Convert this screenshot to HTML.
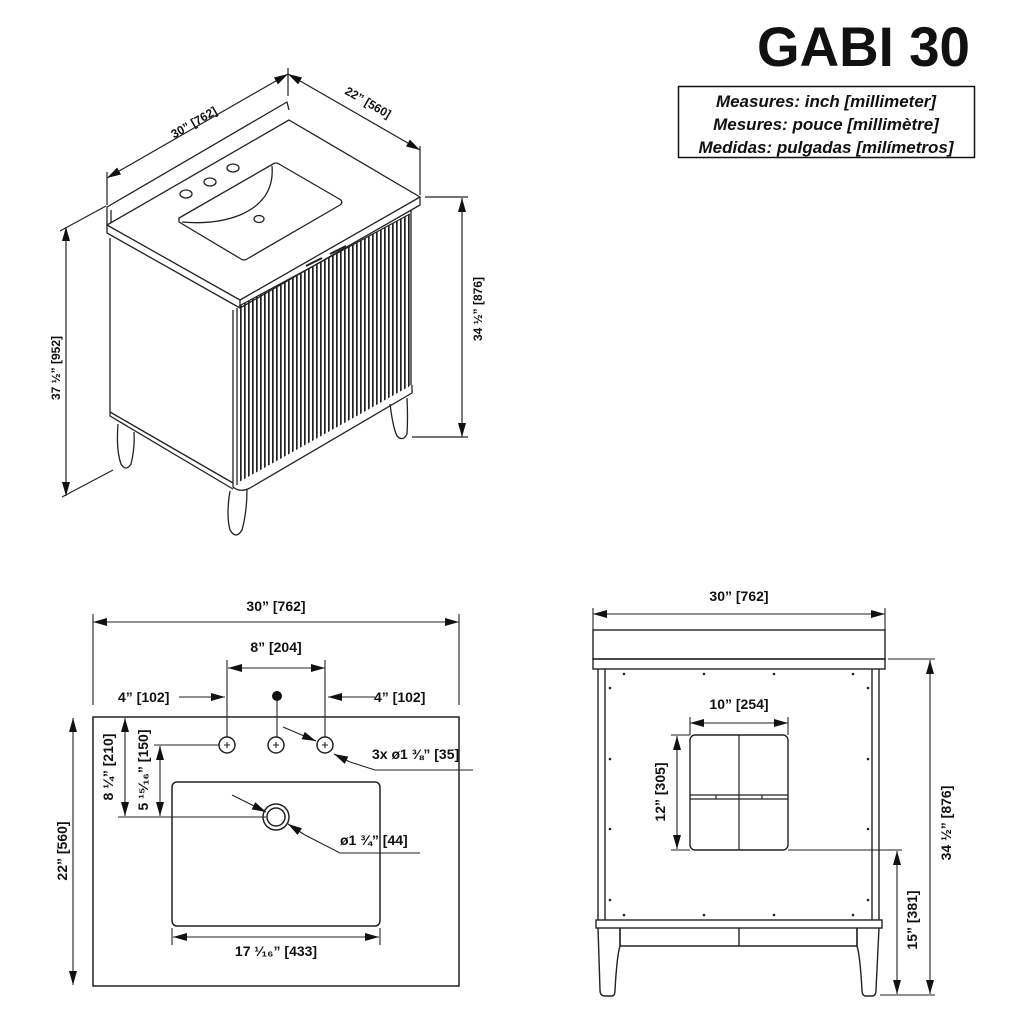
<!DOCTYPE html>
<html><head><meta charset="utf-8"><style>
html,body{margin:0;padding:0;background:#fff;}
svg{display:block;}
text{font-family:"Liberation Sans",Arial,sans-serif;font-weight:bold;fill:#111;}
</style></head><body>
<svg width="1024" height="1024" viewBox="0 0 1024 1024" xmlns="http://www.w3.org/2000/svg">
<defs>
<marker id="a" viewBox="0 0 14 8" markerWidth="14" markerHeight="8" refX="14" refY="4" orient="auto-start-reverse" markerUnits="userSpaceOnUse">
<path d="M0,0 L14,4 L0,8 z" fill="#111"/></marker>
<pattern id="fl" patternUnits="userSpaceOnUse" width="4" height="10"><rect x="0" y="0" width="1.7" height="10" fill="#222"/></pattern>
</defs>
<rect width="1024" height="1024" fill="#fff"/>

<!-- Title -->
<text x="757" y="66" font-size="56" textLength="213" lengthAdjust="spacingAndGlyphs">GABI 30</text>
<rect x="678.5" y="86.5" width="296" height="71" fill="none" stroke="#111" stroke-width="1.5"/>
<g font-style="italic" font-size="17" text-anchor="middle">
<text x="826" y="107">Measures: inch [millimeter]</text>
<text x="826" y="130">Mesures: pouce [millimètre]</text>
<text x="826" y="153">Medidas: pulgadas [milímetros]</text>
</g>

<!-- Isometric view -->
<g fill="none" stroke="#222" stroke-width="1.3" stroke-linejoin="round">
<!-- backsplash -->
<path d="M107,225 L107,207 L287,102 L289,110"/>
<path d="M111,225 L111,210"/>
<!-- counter top -->
<path d="M107,225 L289,120 L420,197 L240,300 Z" fill="#fff"/>
<path d="M107,225 L107,233 L240,308 L420,205 L420,197"/>
<path d="M240,300 L240,308"/>
<!-- sink -->
<path d="M179,218 L273,164 Q276,162 279,164 L341,200 Q343,203 340,205 L247,259 Q244,261 241,259 L179,222 Z"/>
<path d="M272,166 Q275,200 240,215 Q215,225 182,222"/>
<ellipse cx="186" cy="194" rx="6" ry="4"/>
<ellipse cx="210" cy="182" rx="6" ry="4"/>
<ellipse cx="233" cy="168" rx="6" ry="4"/>
<ellipse cx="259" cy="219" rx="5" ry="3.5"/>
<!-- body -->
<path d="M110,238 L110,412 L233,483"/>
<path d="M233,310 L233,487 Q240,493 250,488 L412,393 L412,385"/>
<path d="M110,412 L110,416 L233,489"/>
<path d="M237,308 L237,485"/>
<path d="M411,210 L411,385"/>
<!-- handles -->
<path d="M306,266 L322,258 M330,254 L346,246" stroke-width="2"/>
<!-- legs -->
<path d="M118,424 Q116,450 121,464 Q126,472 131,464 Q135,448 134,432"/>
<path d="M230,491 Q226,515 230,530 Q236,540 242,530 Q247,512 247,489"/>
<path d="M390,404 Q393,428 397,436 Q403,442 407,434 Q408,418 407,398"/>
</g>
<polygon points="239,306 410,214 410,386 239,482" fill="url(#fl)"/>
<path d="M239,306 L410,214" stroke="#222" stroke-width="1.2"/>

<!-- iso dims -->
<g stroke="#222" stroke-width="1.2" fill="none">
<line x1="107" y1="178" x2="288" y2="74" marker-start="url(#a)" marker-end="url(#a)"/>
<line x1="107" y1="172" x2="107" y2="205"/>
<line x1="288" y1="68" x2="288" y2="96"/>
<line x1="288" y1="74" x2="420" y2="150" marker-start="url(#a)" marker-end="url(#a)"/>
<line x1="420" y1="146" x2="420" y2="195"/>
<line x1="66" y1="227" x2="66" y2="496" marker-start="url(#a)" marker-end="url(#a)"/>
<line x1="60" y1="231" x2="106" y2="206"/>
<line x1="62" y1="497" x2="113" y2="470"/>
<line x1="462" y1="198" x2="462" y2="437" marker-start="url(#a)" marker-end="url(#a)"/>
<line x1="425" y1="197" x2="468" y2="197"/>
<line x1="412" y1="437" x2="468" y2="437"/>
</g>
<g font-size="12">
<text transform="translate(196,126) rotate(-30)" text-anchor="middle">30” [762]</text>
<text transform="translate(366,106) rotate(30)" text-anchor="middle">22” [560]</text>
<text transform="translate(60,368) rotate(-90)" text-anchor="middle">37 ½” [952]</text>
<text transform="translate(482,309) rotate(-90)" text-anchor="middle">34 ½” [876]</text>
</g>

<!-- Top view -->
<g stroke="#222" stroke-width="1.5" fill="none">
<rect x="93" y="717" width="366" height="269"/>
<rect x="172" y="782" width="208" height="144" rx="5"/>
<circle cx="276" cy="817" r="13"/><circle cx="276" cy="817" r="9"/>
<circle cx="227" cy="745" r="8"/><circle cx="276" cy="745" r="8"/><circle cx="325" cy="745" r="8"/>
</g>
<g stroke="#222" stroke-width="1.1" fill="none">
<path d="M224,745h6M227,742v6M273,745h6M276,742v6M322,745h6M325,742v6"/>
<line x1="93" y1="622" x2="459" y2="622" marker-start="url(#a)" marker-end="url(#a)"/>
<line x1="93" y1="614" x2="93" y2="705"/><line x1="459" y1="614" x2="459" y2="705"/>
<line x1="228" y1="668" x2="325" y2="668" marker-start="url(#a)" marker-end="url(#a)"/>
<line x1="227" y1="660" x2="227" y2="737"/><line x1="325" y1="660" x2="325" y2="737"/>
<line x1="179" y1="697" x2="225" y2="697" marker-end="url(#a)"/>
<line x1="375" y1="697" x2="328" y2="697" marker-end="url(#a)"/>
<line x1="277" y1="694" x2="277" y2="737"/>
<line x1="73" y1="718" x2="73" y2="985" marker-start="url(#a)" marker-end="url(#a)"/>
<line x1="125" y1="718" x2="125" y2="816" marker-start="url(#a)" marker-end="url(#a)"/>
<line x1="160" y1="746" x2="160" y2="816" marker-start="url(#a)" marker-end="url(#a)"/>
<line x1="154" y1="745" x2="219" y2="745"/>
<line x1="118" y1="817" x2="266" y2="817"/>
<line x1="283" y1="727" x2="316" y2="741" marker-end="url(#a)"/>
<line x1="350" y1="762" x2="334" y2="754" marker-end="url(#a)"/>
<path d="M350,762 L375,770 L473,770"/>
<line x1="232" y1="795" x2="266" y2="812" marker-end="url(#a)"/>
<line x1="305" y1="835" x2="288" y2="824" marker-end="url(#a)"/>
<path d="M305,835 L340,853 L420,853"/>
<line x1="173" y1="937" x2="379" y2="937" marker-start="url(#a)" marker-end="url(#a)"/>
<line x1="172" y1="928" x2="172" y2="945"/><line x1="380" y1="928" x2="380" y2="945"/>
</g>
<circle cx="277" cy="696" r="5" fill="#111"/>
<g font-size="14">
<text x="276" y="611" text-anchor="middle">30” [762]</text>
<text x="276" y="652" text-anchor="middle">8” [204]</text>
<text x="118" y="702">4” [102]</text>
<text x="374" y="702">4” [102]</text>
<text x="372" y="759">3x ø1 ⅜” [35]</text>
<text x="340" y="845">ø1 ¾” [44]</text>
<text x="276" y="956" text-anchor="middle">17 ¹⁄₁₆” [433]</text>
<text transform="translate(67,851) rotate(-90)" text-anchor="middle">22” [560]</text>
<text transform="translate(113,767) rotate(-90)" text-anchor="middle">8 ¼” [210]</text>
<text transform="translate(148,770) rotate(-90)" text-anchor="middle">5 ¹⁵⁄₁₆” [150]</text>
</g>

<!-- Front view -->
<g stroke="#222" stroke-width="1.4" fill="none">
<rect x="593" y="630" width="292" height="29"/>
<rect x="593" y="659" width="292" height="10"/>
<path d="M598,669 V920 M605,669 V920 M872,669 V920 M879,669 V920"/>
<rect x="596" y="920" width="286" height="8"/>
<path d="M620,928 V946 H857 V928 M739,928 V946"/>
<path d="M598,928 L600,990 Q600,996 605,996 L612,996 Q615,996 615,990 Q617,955 620,946 V928"/>
<path d="M857,928 V946 Q860,955 862,990 Q862,996 866,996 L872,996 Q876,996 876,990 L879,928"/>
<rect x="690" y="735" width="98" height="115" rx="5"/>
<path d="M739,735 V850 M690,795 H788 M690,799 H788 M716,795v4 M762,795v4" stroke-width="1.2"/>
</g>
<g fill="#222">
<circle cx="624" cy="674" r="1.3"/><circle cx="704" cy="674" r="1.3"/><circle cx="774" cy="674" r="1.3"/><circle cx="853" cy="674" r="1.3"/>
<circle cx="610" cy="688" r="1.3"/><circle cx="868" cy="688" r="1.3"/>
<circle cx="610" cy="759" r="1.3"/><circle cx="868" cy="759" r="1.3"/>
<circle cx="610" cy="829" r="1.3"/><circle cx="868" cy="829" r="1.3"/>
<circle cx="610" cy="900" r="1.3"/><circle cx="868" cy="900" r="1.3"/>
<circle cx="624" cy="915" r="1.3"/><circle cx="704" cy="915" r="1.3"/><circle cx="774" cy="915" r="1.3"/><circle cx="853" cy="915" r="1.3"/>
</g>
<g stroke="#222" stroke-width="1.1" fill="none">
<line x1="593" y1="614" x2="885" y2="614" marker-start="url(#a)" marker-end="url(#a)"/>
<line x1="593" y1="608" x2="593" y2="630"/><line x1="885" y1="608" x2="885" y2="630"/>
<line x1="690" y1="723" x2="788" y2="723" marker-start="url(#a)" marker-end="url(#a)"/>
<line x1="690" y1="717" x2="690" y2="735"/><line x1="788" y1="717" x2="788" y2="735"/>
<line x1="677" y1="736" x2="677" y2="849" marker-start="url(#a)" marker-end="url(#a)"/>
<line x1="671" y1="735" x2="690" y2="735"/><line x1="671" y1="850" x2="690" y2="850"/>
<line x1="788" y1="850" x2="902" y2="850"/>
<line x1="897" y1="851" x2="897" y2="994" marker-start="url(#a)" marker-end="url(#a)"/>
<line x1="888" y1="659" x2="935" y2="659"/>
<line x1="880" y1="995" x2="935" y2="995"/>
<line x1="930" y1="660" x2="930" y2="994" marker-start="url(#a)" marker-end="url(#a)"/>
</g>
<g font-size="14">
<text x="739" y="601" text-anchor="middle">30” [762]</text>
<text x="739" y="709" text-anchor="middle">10” [254]</text>
<text transform="translate(665,792) rotate(-90)" text-anchor="middle">12” [305]</text>
<text transform="translate(917,920) rotate(-90)" text-anchor="middle">15” [381]</text>
<text transform="translate(951,823) rotate(-90)" text-anchor="middle">34 ½” [876]</text>
</g>
</svg>
</body></html>
